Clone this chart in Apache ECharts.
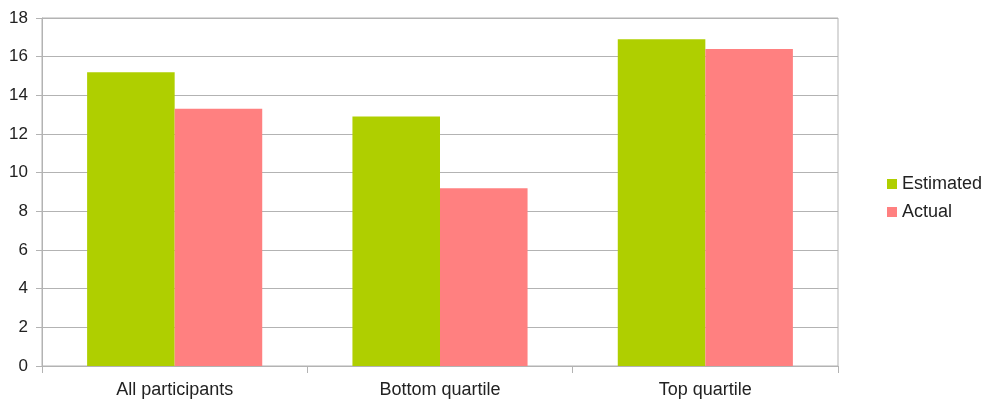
<!DOCTYPE html>
<html>
<head>
<meta charset="utf-8">
<script src="https://cdn.jsdelivr.net/npm/echarts@6/dist/echarts.min.js"></script>
<style>html,body{margin:0;padding:0;background:#fff}#c{width:986px;height:400px}</style>
</head>
<body>
<div id="c"></div>
<script>
const categories = ["All participants", "Bottom quartile", "Top quartile"];
const estimated = [15.2, 12.9, 16.9];
const actual = [13.3, 9.2, 16.4];
const yTicks = { min: 0, max: 18, interval: 2 };

const chart = echarts.init(document.getElementById('c'), null, { renderer: 'canvas' });
const font = 'Liberation Sans, Arial, sans-serif';
chart.setOption({
  animation: false,
  backgroundColor: '#fff',
  grid: { left: 42, right: 148, top: 18, bottom: 34, show: true, borderColor: '#b3b3b3', borderWidth: 1, containLabel: false },
  legend: {
    orient: 'vertical', left: 882, top: 170,
    itemWidth: 10, itemHeight: 10, itemGap: 10,
    icon: 'rect',
    textStyle: { fontFamily: font, fontSize: 18, color: '#222' },
    data: ['Estimated', 'Actual']
  },
  xAxis: {
    type: 'category', data: categories,
    axisLine: { lineStyle: { color: '#b3b3b3' } },
    axisTick: { show: true, length: 7, lineStyle: { color: '#b3b3b3' } },
    axisLabel: { fontFamily: font, fontSize: 18, color: '#222', margin: 15 }
  },
  yAxis: {
    type: 'value', min: yTicks.min, max: yTicks.max, interval: yTicks.interval,
    axisLine: { show: true, lineStyle: { color: '#b3b3b3' } },
    axisTick: { show: true, length: 6, lineStyle: { color: '#b3b3b3' } },
    axisLabel: { fontFamily: font, fontSize: 17, color: '#222', margin: 14 },
    splitLine: { lineStyle: { color: '#b3b3b3' } }
  },
  series: [
    { name: 'Estimated', type: 'bar', data: estimated, barGap: '0%', barCategoryGap: '34%', itemStyle: { color: '#afcf00' } },
    { name: 'Actual', type: 'bar', data: actual, barGap: '0%', barCategoryGap: '34%', itemStyle: { color: '#ff8080' } }
  ]
});
</script>
</body>
</html>
